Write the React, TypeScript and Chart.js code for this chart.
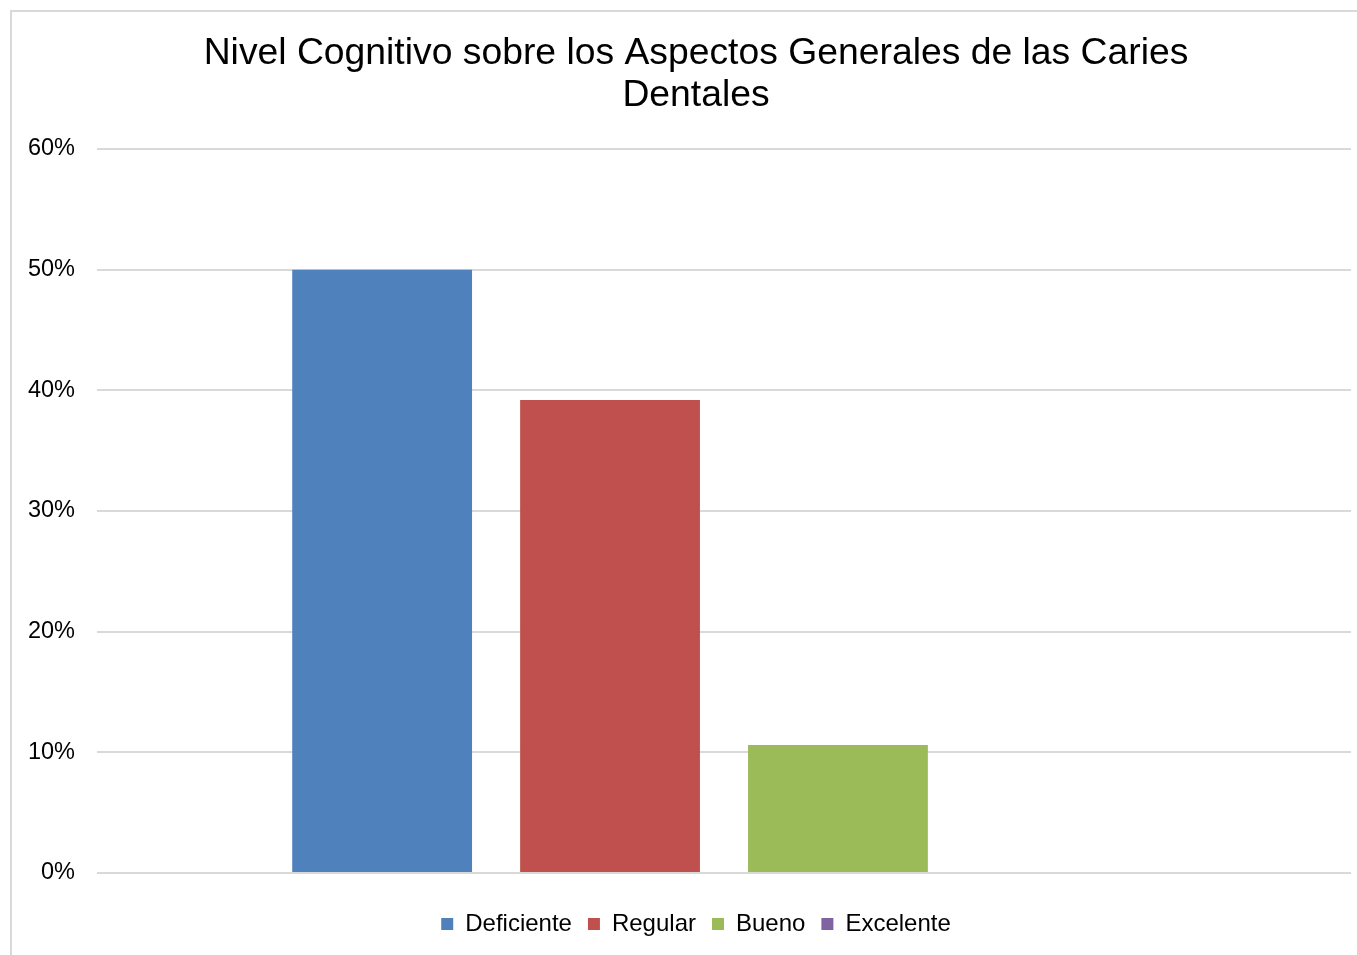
import React, { useEffect, useRef } from "react";
import { Chart, registerables } from "chart.js";

Chart.register(...registerables);

const titleLines = ["Nivel Cognitivo sobre los Aspectos Generales de las Caries", "Dentales"];
const categories = [""];
const seriesNames = ["Deficiente", "Regular", "Bueno", "Excelente"];
const deficienteValues = [0.5];
const regularValues = [0.392];
const buenoValues = [0.106];
const excelenteValues = [0];
const seriesColors = ["#4F81BD", "#C0504D", "#9BBB59", "#8064A2"];
const yTickLabels = ["0%", "10%", "20%", "30%", "40%", "50%", "60%"];

const FONT = "'Liberation Sans', Arial, sans-serif";

export default function App() {
  const canvasRef = useRef<HTMLCanvasElement | null>(null);

  useEffect(() => {
    const canvas = canvasRef.current;
    if (!canvas) return;
    const seriesData = [deficienteValues, regularValues, buenoValues, excelenteValues];
    const chart = new Chart(canvas, {
      type: "bar",
      data: {
        labels: categories,
        datasets: seriesNames.map((name, i) => ({
          label: name,
          data: seriesData[i],
          backgroundColor: seriesColors[i],
          borderWidth: 0,
          categoryPercentage: 0.727,
          barPercentage: 0.789,
        })),
      },
      options: {
        responsive: false,
        animation: false,
        devicePixelRatio: 1,
        layout: { padding: { left: 0, right: 0, top: 0, bottom: 9 } },
        plugins: {
          tooltip: { enabled: false },
          title: {
            display: true,
            text: titleLines,
            color: "#000",
            font: { family: FONT, size: 37.3, weight: "normal", lineHeight: 1.126 },
            padding: { top: 23, bottom: 32 },
          },
          legend: {
            display: true,
            position: "bottom",
            labels: {
              color: "#000",
              font: { family: FONT, size: 24 },
              boxWidth: 12,
              boxHeight: 12,
              padding: 16,
              useBorderRadius: false,
            },
          },
        },
        scales: {
          x: {
            display: true,
            grid: { display: false, drawTicks: false },
            border: { display: false },
            ticks: { display: false },
            afterFit: (scale: any) => {
              scale.height = 23;
            },
          },
          y: {
            position: "left",
            min: 0,
            max: 0.6,
            ticks: {
              stepSize: 0.1,
              color: "#000",
              font: { family: FONT, size: 23.5 },
              padding: 22,
              autoSkip: false,
              callback: (v: any) => yTickLabels[Math.round(Number(v) * 10)],
            },
            grid: { color: "#d9d9d9", lineWidth: 2, drawTicks: false },
            border: { display: false },
            afterFit: (scale: any) => {
              scale.width = 87;
            },
          },
          yRightSpace: {
            position: "right",
            display: true,
            min: 0,
            max: 1,
            ticks: { display: false },
            grid: { display: false, drawTicks: false },
            border: { display: false },
            afterFit: (scale: any) => {
              scale.width = 31;
            },
          },
        },
      },
    });
    return () => chart.destroy();
  }, []);

  return (
    <div style={{ position: "fixed", left: 0, top: 0, width: 1357, height: 955, overflow: "hidden", background: "#fff" }}>
      <canvas
        ref={canvasRef}
        width={1372}
        height={945}
        style={{ position: "absolute", left: 10, top: 10, width: 1372, height: 945 }}
      />
      <div
        style={{
          position: "absolute",
          left: 10,
          top: 10,
          width: 1400,
          height: 1000,
          borderLeft: "2px solid #d9d9d9",
          borderTop: "2px solid #d9d9d9",
          pointerEvents: "none",
        }}
      />
    </div>
  );
}
